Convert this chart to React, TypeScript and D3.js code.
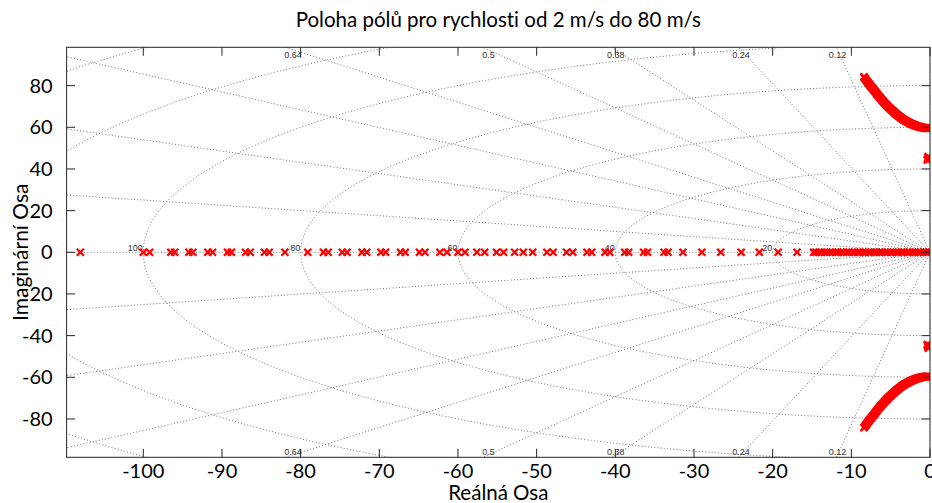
import React from 'react';
import * as d3 from 'd3';

// Canvas and plot box
const W = 932;
const H = 503;
const PLOT = { left: 66.6, right: 930, top: 47.3, bottom: 457.3 };

// Axis limits and ticks
const xLimits = [-109.75, 0];
const yLimits = [-98.4, 98.4];
const xTickValues = [-100, -90, -80, -70, -60, -50, -40, -30, -20, -10, 0];
const yTickValues = [-80, -60, -40, -20, 0, 20, 40, 60, 80];

// s-plane grid: damping ratios and natural frequencies
const dampingRatios = [0.12, 0.24, 0.38, 0.5, 0.64, 0.76, 0.88, 0.97];
const labeledDamping = [0.64, 0.5, 0.38, 0.24, 0.12];
const naturalFreqs = [20, 40, 60, 80, 100, 120, 140];
const labeledFreqs = [20, 40, 60, 80, 100];

// Real poles spread along the negative real axis
const spreadRealPoles = [
  -108.0, -100.0, -99.2, -96.5, -96.0, -94.2, -93.7, -91.8, -91.2, -89.3, -88.8,
  -87.0, -86.4, -84.6, -84.0, -82.0, -79.1, -77.1, -76.5, -74.7, -74.1, -72.2,
  -71.6, -69.8, -69.2, -67.3, -66.7, -64.9, -64.2, -62.3, -61.4, -60.0, -59.1,
  -57.6, -56.6, -55.1, -54.2, -52.8, -51.7, -50.5, -48.7, -47.9, -46.2, -45.4,
  -43.6, -43.0, -41.3, -40.7, -38.8, -38.3, -36.4, -35.9, -33.8, -33.3, -31.4,
  -29.0, -26.6, -24.0, -21.7, -19.3, -16.9,
];

// Slow real poles packed close to the origin
const packedRealPoles = [
  -14.8, -14.5, -14.1, -13.8, -13.4, -13.1, -12.7, -12.4, -12.0, -11.7, -11.3,
  -11.0, -10.6, -10.3, -9.9, -9.6, -9.2, -8.9, -8.5, -8.2, -7.8, -7.5, -7.1,
  -6.8, -6.4, -6.1, -5.7, -5.4, -5.0, -4.7, -4.3, -4.0, -3.6, -3.3, -2.9, -2.6,
  -2.2, -1.9, -1.5, -1.2, -0.8, -0.5, -0.2,
];

// Lightly damped complex branch (upper half; conjugates mirror it)
const branchRe = [
  -8.4, -8.3, -8.2, -8.1, -8.0, -7.9, -7.8, -7.7, -7.6, -7.5, -7.4, -7.3, -7.2,
  -7.1, -7.0, -6.9, -6.8, -6.7, -6.6, -6.5, -6.4, -6.3, -6.2, -6.1, -6.0, -5.9,
  -5.8, -5.7, -5.6, -5.5, -5.4, -5.3, -5.2, -5.1, -5.0, -4.9, -4.8, -4.7, -4.6,
  -4.5, -4.4, -4.3, -4.2, -4.1, -4.0, -3.9, -3.8, -3.7, -3.6, -3.5, -3.4, -3.3,
  -3.2, -3.1, -3.0, -2.9, -2.8, -2.7, -2.6, -2.5, -2.4, -2.3, -2.2, -2.1, -2.0,
  -1.9, -1.8, -1.7, -1.6, -1.5, -1.4, -1.3, -1.2, -1.1, -1.0, -0.9, -0.8, -0.7,
  -0.6, -0.5, -0.4, -0.3, -0.2,
];
const branchIm = [
  84.2, 83.7, 83.2, 82.6, 82.1, 81.6, 81.1, 80.6, 80.1, 79.6, 79.2, 78.7, 78.2,
  77.7, 77.3, 76.8, 76.3, 75.8, 75.3, 74.9, 74.4, 74.0, 73.5, 73.1, 72.7, 72.2,
  71.8, 71.4, 71.0, 70.6, 70.2, 69.8, 69.5, 69.1, 68.8, 68.4, 68.1, 67.7, 67.4,
  67.0, 66.7, 66.4, 66.1, 65.8, 65.5, 65.2, 64.9, 64.6, 64.3, 64.0, 63.8, 63.5,
  63.3, 63.1, 62.9, 62.7, 62.5, 62.3, 62.1, 61.9, 61.7, 61.5, 61.4, 61.2, 61.1,
  60.9, 60.8, 60.6, 60.5, 60.4, 60.3, 60.2, 60.1, 60.0, 59.9, 59.85, 59.8, 59.75,
  59.7, 59.65, 59.6, 59.55, 59.5,
];

// Nearly undamped poles around 45 rad/s
const clusterRe = [-0.35, -0.3, -0.25, -0.2, -0.15, -0.1];
const clusterIm = [44.3, 44.9, 45.5, 46.0, 45.2, 44.6];

const TITLE = 'Poloha pólů pro rychlosti od 2 m/s do 80 m/s';
const X_LABEL = 'Reálná Osa';
const Y_LABEL = 'Imaginární Osa';

const FONT = 'Lato, "Open Sans", sans-serif';
const GRID_FONT = '"Liberation Sans", Arial, sans-serif';

export default function App() {
  const x = d3.scaleLinear().domain(xLimits).range([PLOT.left, PLOT.right]);
  const y = d3.scaleLinear().domain(yLimits).range([PLOT.bottom, PLOT.top]);
  const line = d3
    .line<[number, number]>()
    .x((d) => x(d[0]))
    .y((d) => y(d[1]));

  const gridColor = '#6f6f6f';
  const gridDash = '1 2.2';

  // natural-frequency half circles
  const circlePaths = naturalFreqs.map((wn) =>
    line(
      d3.range(0, 361).map((i) => {
        const t = -Math.PI / 2 + (i / 360) * Math.PI;
        return [-wn * Math.cos(t), wn * Math.sin(t)] as [number, number];
      })
    )
  );

  // constant damping rays (both half-planes), plus real and imaginary axes
  const R = 1000;
  const rayPaths: string[] = [];
  dampingRatios.forEach((z) => {
    const s = Math.sqrt(1 - z * z);
    rayPaths.push(line([[0, 0], [-R * z, R * s]]) as string);
    rayPaths.push(line([[0, 0], [-R * z, -R * s]]) as string);
  });
  rayPaths.push(line([[0, 0], [-R, 0]]) as string);
  rayPaths.push(line([[0, -R], [0, R]]) as string);

  // damping labels where rays meet the top / bottom edges
  const dampLabels = labeledDamping.map((z) => {
    const s = Math.sqrt(1 - z * z);
    const im = y.invert(PLOT.top + 2.5);
    const re = (-im * z) / s;
    return { z, px: x(re) };
  });

  const allPoles: [number, number][] = [];
  spreadRealPoles.forEach((r) => allPoles.push([r, 0]));
  packedRealPoles.forEach((r) => allPoles.push([r, 0]));
  branchRe.forEach((r, i) => {
    allPoles.push([r, branchIm[i]]);
    allPoles.push([r, -branchIm[i]]);
  });
  clusterRe.forEach((r, i) => {
    allPoles.push([r, clusterIm[i]]);
    allPoles.push([r, -clusterIm[i]]);
  });

  const m = 3.5;
  const crossPath = `M${-m},${-m}L${m},${m}M${-m},${m}L${m},${-m}`;
  const tickLen = 8.5;
  const axisColor = '#262626';

  return (
    <svg
      width={W}
      height={H}
      style={{ position: 'absolute', left: 0, top: 0, background: '#fff' }}
    >
      <defs>
        <clipPath id="plotArea">
          <rect
            x={PLOT.left}
            y={PLOT.top}
            width={PLOT.right - PLOT.left}
            height={PLOT.bottom - PLOT.top}
          />
        </clipPath>
      </defs>
      <rect x={0} y={0} width={W} height={H} fill="#fff" />

      <g clipPath="url(#plotArea)" fill="none" stroke={gridColor} strokeWidth={1} strokeDasharray={gridDash}>
        {circlePaths.map((d, i) => (
          <path key={'c' + i} d={d as string} />
        ))}
        {rayPaths.map((d, i) => (
          <path key={'r' + i} d={d} />
        ))}
      </g>

      <g fontFamily={GRID_FONT} fontSize={9} fill="#333">
        {labeledFreqs.map((wn) => (
          <text key={'w' + wn} x={x(-wn) - 0.5} y={y(0) - 1.5} textAnchor="end">
            {wn}
          </text>
        ))}
        {dampLabels.map((d) => (
          <g key={'z' + d.z}>
            <text x={d.px} y={PLOT.top + 10.5} textAnchor="middle">
              {String(d.z)}
            </text>
            <text x={d.px} y={PLOT.bottom - 2.5} textAnchor="middle">
              {String(d.z)}
            </text>
          </g>
        ))}
      </g>

      <g clipPath="url(#plotArea)" stroke="#ff0000" strokeWidth={2.3} fill="none">
        {allPoles.map((p, i) => (
          <path key={'p' + i} d={crossPath} transform={`translate(${x(p[0])},${y(p[1])})`} />
        ))}
      </g>

      <g stroke={axisColor} strokeWidth={1} fill="none">
        <rect
          x={PLOT.left}
          y={PLOT.top}
          width={PLOT.right - PLOT.left}
          height={PLOT.bottom - PLOT.top}
        />
        {xTickValues.map((v) => (
          <g key={'xt' + v}>
            <line x1={x(v)} x2={x(v)} y1={PLOT.bottom} y2={PLOT.bottom - tickLen} />
            <line x1={x(v)} x2={x(v)} y1={PLOT.top} y2={PLOT.top + tickLen} />
          </g>
        ))}
        {yTickValues.map((v) => (
          <g key={'yt' + v}>
            <line x1={PLOT.left} x2={PLOT.left + tickLen} y1={y(v)} y2={y(v)} />
            <line x1={PLOT.right} x2={PLOT.right - tickLen} y1={y(v)} y2={y(v)} />
          </g>
        ))}
      </g>

      <g fontFamily={FONT} fontSize={20} fill="#000" style={{ fontVariantLigatures: 'none' }}>
        {xTickValues.map((v) => (
          <text key={'xl' + v} x={x(v)} y={477.5} textAnchor="middle">
            {String(v)}
          </text>
        ))}
        {yTickValues.map((v) => (
          <text key={'yl' + v} x={PLOT.left - 14} y={y(v) + 7} textAnchor="end">
            {String(v)}
          </text>
        ))}
        <text x={(PLOT.left + PLOT.right) / 2} y={500} textAnchor="middle" fontSize={20.5}>
          {X_LABEL}
        </text>
        <text
          transform={`translate(28,${(PLOT.top + PLOT.bottom) / 2}) rotate(-90)`}
          textAnchor="middle"
          fontSize={21}
        >
          {Y_LABEL}
        </text>
        <text x={(PLOT.left + PLOT.right) / 2} y={27} textAnchor="middle" fontSize={20.5}>
          {TITLE}
        </text>
      </g>
    </svg>
  );
}
